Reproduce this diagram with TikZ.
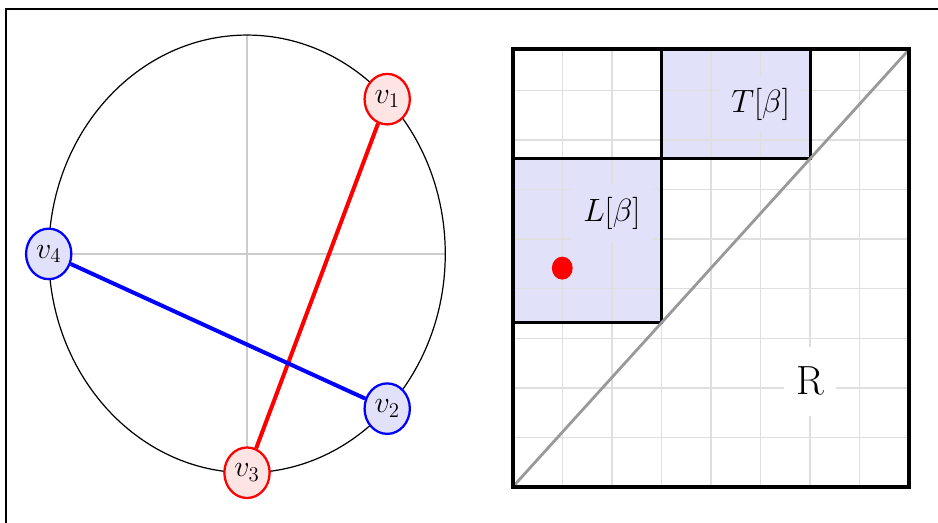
\RequirePackage{fix-cm}
\documentclass[tikz,border=0pt]{standalone}
\usetikzlibrary{shapes.geometric,calc}
\definecolor{myBlue}{RGB}{225,225,250}
\definecolor{myPink}{RGB}{255,228,228}
\tikzset{
	vnode/.style={
		ellipse,
		line width=1.3pt,
		minimum width=26pt,
		minimum height=29pt,
		inner sep=0pt,
		font=\LARGE
	},
	rnode/.style={vnode, draw=red, fill=myPink},
	bnode/.style={vnode, draw=blue, fill=myBlue},
	chord/.style={line width=2.3pt},
	axisline/.style={gray!40, line width=1pt},
	gridline/.style={gray!25, line width=0.8pt},
	region/.style={draw=black, line width=1.6pt},
	rlabel/.style={inner sep=7pt, font=\fontsize{18.5}{22}\selectfont}
}

\begin{document}
\begin{tikzpicture}[x=1cm, y=1.1037cm]
		\useasboundingbox (-10.343,-0.658) rectangle (8.580,8.901);
		\draw[line width=1.2pt] (-10.22,-2) rectangle (10,8.73);
		\coordinate (c) at (-5.36,4.26);
		\draw[axisline] ($(c)+(-4,0)$) -- ($(c)+(4,0)$);
		\draw[axisline] ($(c)+(0,-4)$) -- ($(c)+(0,4)$);
		\draw[line width=0.7pt] (c) circle [radius=4];
		\node[rnode] (v1) at ($(c)+(45:4)$) {$v_1$};
		\node[bnode] (v2) at ($(c)+(-45:4)$) {$v_2$};
		\node[rnode] (v3) at ($(c)+(-90:4)$) {$v_3$};
		\node[bnode] (v4) at ($(c)+(180:4)$) {$v_4$};
		\draw[chord, red] (v1) -- (v3);
		\draw[chord, blue] (v4) -- (v2);
		\fill[myBlue] (0,3) rectangle (3,6);
		\fill[myBlue] (3,6) rectangle (6,8);
		\draw[gridline] (0,0) grid (8,8);
		\draw[region] (0,3) rectangle (3,6);
		\draw[region] (3,6) rectangle (6,8);
		\draw[gray!80, line width=1.6pt] (0,0) -- (8,8);
		\draw[line width=2.2pt] (0,0) rectangle (8,8);
		\node[rlabel, fill=myBlue] (Lb) at (2,5) {$L[\beta]$};
		\node[rlabel, fill=myBlue] (Tb) at (5,7) {$T[\beta]$};
		\node[fill=white, minimum width=30pt, minimum height=40pt, font=\fontsize{23.4}{28}\selectfont] (R) at (6,1.93) {R};
		\fill[red] (1,4) circle [radius=0.21];
	\end{tikzpicture}
\end{document}
